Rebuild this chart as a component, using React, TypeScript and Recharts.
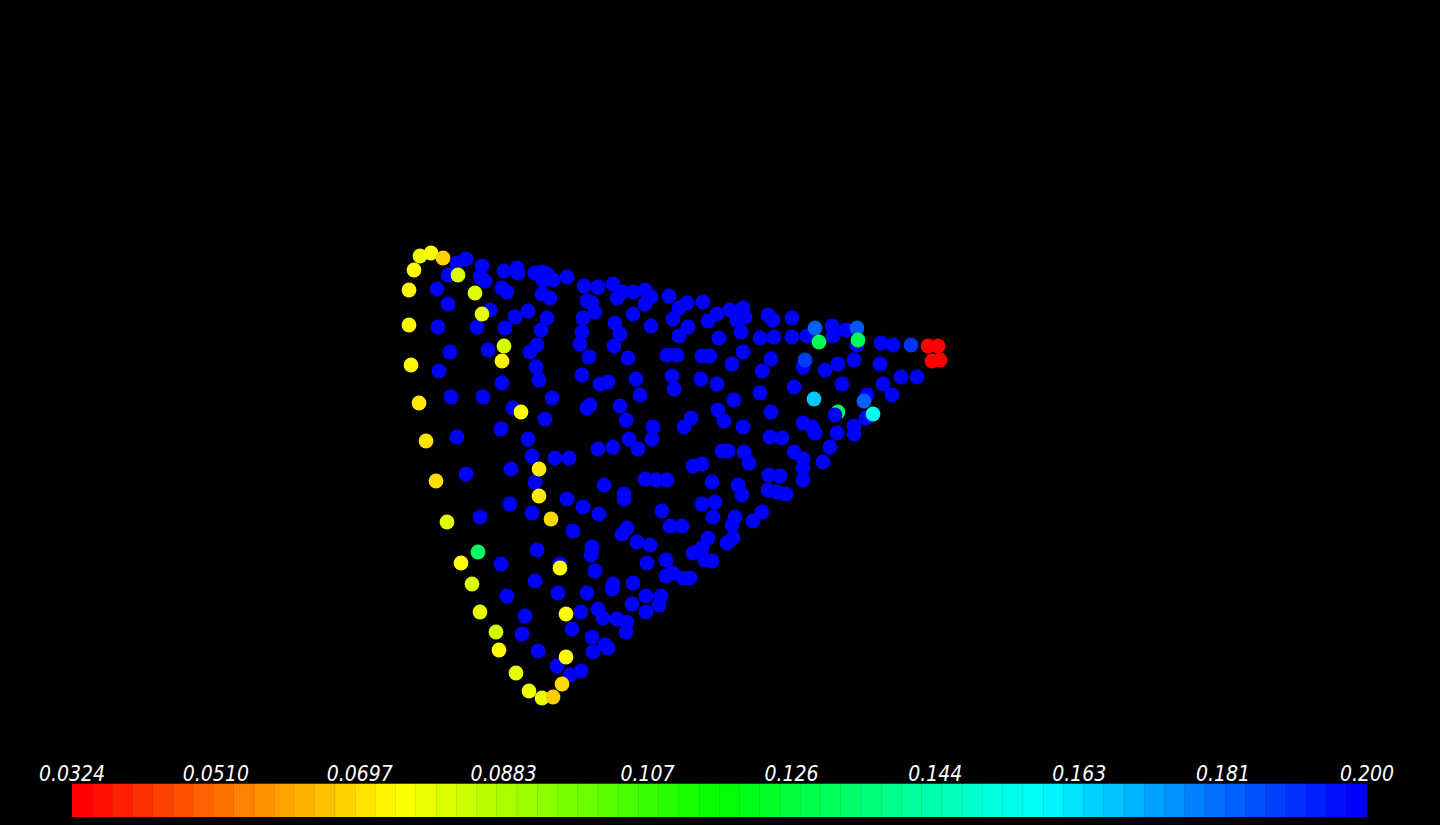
import { ScatterChart, Scatter, XAxis, YAxis, BarChart, Bar, Cell } from 'recharts'

// point positions are in screen-like units (x right, y down), value drives the colour
const bluePoints: number[][] = [
  [457, 263], [466, 259], [448, 275], [482, 266], [480, 277], [485, 281], [504, 271], [517, 268], [518, 273],
  [535, 273], [542, 272], [547, 274], [543, 280], [553, 280], [567, 277], [437, 289], [502, 288], [507, 292],
  [542, 294], [550, 298], [448, 304], [490, 310], [528, 311], [515, 317], [547, 318], [438, 327], [477, 327],
  [505, 328], [541, 330], [450, 352], [488, 350], [537, 345], [530, 352], [439, 371], [536, 367], [502, 383],
  [539, 380], [451, 397], [483, 397], [552, 398],
  [584, 286], [598, 287], [613, 284], [622, 292], [633, 292], [645, 290], [651, 297], [645, 304], [617, 298],
  [587, 301], [592, 303], [595, 312], [583, 318], [633, 314], [669, 296], [687, 303], [679, 308], [703, 302],
  [673, 319], [651, 326], [615, 323], [620, 334], [614, 346], [582, 332], [580, 344], [688, 327], [679, 336],
  [708, 321], [717, 314], [730, 310], [743, 308], [745, 317], [737, 320], [741, 332], [768, 315], [719, 338],
  [760, 338], [589, 357], [628, 358], [667, 355], [677, 355], [702, 356], [710, 356], [743, 352], [732, 364],
  [771, 359], [762, 371], [582, 375], [600, 384], [608, 382], [636, 379], [672, 376], [674, 389], [701, 379],
  [717, 384], [640, 395], [590, 405], [587, 408], [620, 406], [626, 420], [734, 400], [760, 393], [718, 410],
  [724, 421], [691, 418], [653, 427], [684, 427], [743, 427], [771, 412],
  [773, 320], [792, 318], [832, 326], [846, 330], [833, 336], [807, 336], [792, 337], [774, 337], [857, 345],
  [881, 343], [893, 345], [803, 367], [838, 364], [854, 360], [825, 370], [880, 364], [901, 377], [917, 377],
  [883, 384], [842, 384], [794, 387], [892, 395], [867, 395], [835, 415], [866, 418], [803, 423], [812, 427],
  [815, 433], [837, 433], [854, 426], [854, 434], [770, 437], [782, 438],
  [513, 408], [545, 419], [457, 437], [501, 429], [528, 439], [532, 456], [555, 458], [569, 458], [466, 474],
  [511, 469], [535, 482], [510, 504], [567, 499], [532, 513], [573, 531], [480, 517], [537, 550],
  [598, 449], [613, 447], [629, 439], [638, 449], [652, 439], [722, 451], [728, 451], [744, 452], [749, 463],
  [693, 466], [702, 464], [645, 479], [656, 480], [667, 480], [604, 485], [624, 494], [624, 499], [712, 482],
  [738, 485], [742, 495], [769, 475], [768, 490], [583, 507], [599, 514], [662, 511], [702, 504], [715, 502],
  [713, 517], [735, 517], [732, 525], [753, 521], [762, 512], [670, 526], [682, 526], [627, 528], [622, 534],
  [637, 542], [650, 545], [592, 547], [591, 555], [708, 538], [702, 548], [727, 543], [733, 538], [693, 553],
  [705, 560], [712, 561], [647, 563], [666, 560], [595, 571], [666, 576], [673, 573], [683, 578], [690, 578],
  [613, 584], [633, 583],
  [794, 452], [803, 459], [803, 468], [803, 480], [830, 447], [823, 462], [780, 476], [777, 492], [786, 494],
  [501, 564], [560, 564], [535, 581], [558, 593], [587, 593], [612, 589], [507, 596], [525, 616], [581, 612],
  [598, 609], [603, 618], [617, 619], [627, 622], [626, 632], [572, 629], [522, 634], [592, 637], [593, 652],
  [605, 645], [608, 648], [538, 651], [557, 666], [570, 675], [581, 671],
  [646, 596], [661, 596], [659, 605], [632, 604], [646, 612],
]
const blueValue = 0.2

// [x, y, value]
const yellowPoints: number[][] = [
  [420, 256, 0.077], [431, 253, 0.075], [443, 258, 0.067], [414, 270, 0.074], [458, 275, 0.08],
  [409, 290, 0.073], [475, 293, 0.08], [482, 314, 0.078], [409, 325, 0.073], [504, 346, 0.081],
  [502, 361, 0.073], [411, 365, 0.073], [419, 403, 0.071], [521, 412, 0.074], [426, 441, 0.07],
  [436, 481, 0.069], [539, 469, 0.071], [539, 496, 0.071], [551, 519, 0.068], [447, 522, 0.079],
  [461, 563, 0.074], [560, 568, 0.075], [472, 584, 0.08], [480, 612, 0.078], [566, 614, 0.075],
  [496, 632, 0.082], [499, 650, 0.074], [566, 657, 0.075], [516, 673, 0.078], [562, 684, 0.068],
  [529, 691, 0.077], [542, 698, 0.078], [553, 697, 0.066],
]
const greenPoints: number[][] = [[819, 342, 0.13], [858, 340, 0.13], [478, 552, 0.133]]
const hiddenGreen: number[][] = [[838, 412, 0.13]]
const cyanPoints: number[][] = [[814, 399, 0.167], [873, 414, 0.155]]
const lightBluePoints: number[][] = [[815, 328, 0.184], [857, 328, 0.186], [805, 360, 0.19], [911, 345, 0.192], [864, 401, 0.184]]
const redPoints: number[][] = [[928, 346, 0.0324], [938, 346, 0.0324], [932, 361, 0.0324], [940, 360, 0.0324]]

const vMin = 0.0324
const vMax = 0.2
const bandCount = 64
const tickLabels = ['0.0324', '0.0510', '0.0697', '0.0883', '0.107', '0.126', '0.144', '0.163', '0.181', '0.200']

function hueColor(h: number) {
  // hsv with s = v = 1
  const k = (n: number) => (n + h / 60) % 6
  const f = (n: number) => Math.round(255 * (1 - Math.max(0, Math.min(k(n), 4 - k(n), 1))))
  return `rgb(${f(5)},${f(3)},${f(1)})`
}

function valueColor(v: number) {
  const t = Math.max(0, Math.min(1, (v - vMin) / (vMax - vMin)))
  return hueColor(240 * t)
}

const toData = (pts: number[][], v?: number) => pts.map((p) => ({ x: p[0], y: p[1], v: v ?? p[2] }))

const scatterData = [
  ...toData(hiddenGreen),
  ...toData(bluePoints, blueValue),
  ...toData(lightBluePoints),
  ...toData(yellowPoints),
  ...toData(greenPoints),
  ...toData(cyanPoints),
  ...toData(redPoints),
]

const bandStep = (vMax - vMin) / bandCount
const bands = Array.from({ length: bandCount }, (_, i) => ({
  c: vMin + (i + 0.5) * bandStep,
  v: 1,
  color: hueColor((240 * i) / (bandCount - 1)),
}))
const tickValues = tickLabels.map((_, i) => vMin + ((vMax - vMin) * i) / (tickLabels.length - 1))

const Dot = (props: any) => {
  const { cx, cy, payload } = props
  if (cx == null || cy == null) return null
  return <circle cx={cx} cy={cy} r={7.4} fill={valueColor(payload.v)} />
}

export default function App() {
  return (
    <div style={{ position: 'fixed', left: 0, top: 0, width: 1440, height: 825, background: '#000', overflow: 'hidden' }}>
      <ScatterChart width={1440} height={760} margin={{ top: 0, right: 0, bottom: 0, left: 0 }}>
        <XAxis type="number" dataKey="x" domain={[0, 1440]} hide allowDataOverflow />
        <YAxis type="number" dataKey="y" domain={[0, 760]} reversed hide allowDataOverflow />
        <Scatter data={scatterData} shape={Dot} isAnimationActive={false} />
      </ScatterChart>
      <div style={{ position: 'absolute', left: 0, top: 754 }}>
        <BarChart width={1440} height={63} data={bands} barCategoryGap={0} barGap={0}
          margin={{ top: 0, right: 73, bottom: 0, left: 72 }}>
          <XAxis dataKey="c" type="number" orientation="top" domain={[vMin, vMax]} ticks={tickValues}
            tickFormatter={(_: any, idx: number) => tickLabels[idx]} axisLine={false} tickLine={false}
            tickSize={0} tickMargin={3} height={30} interval={0} allowDataOverflow
            tick={{ fill: '#fff', fontSize: 21, fontStyle: 'italic', fontFamily: '"Liberation Sans Narrow", "DejaVu Sans Condensed", "DejaVu Sans", sans-serif' }} />
          <YAxis hide domain={[0, 1]} />
          <Bar dataKey="v" isAnimationActive={false}>
            {bands.map((b, i) => (
              <Cell key={i} fill={b.color} stroke={b.color} strokeWidth={0.6} />
            ))}
          </Bar>
        </BarChart>
      </div>
    </div>
  )
}
